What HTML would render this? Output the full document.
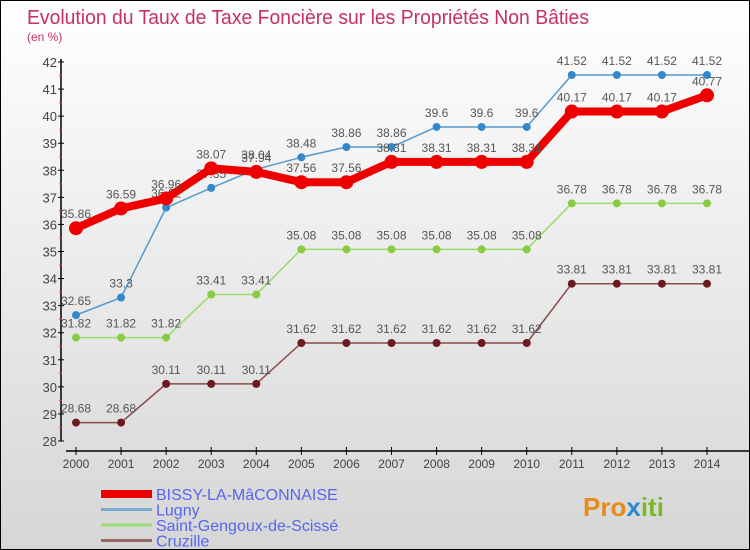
<!DOCTYPE html>
<html><head><meta charset="utf-8"><style>
body{margin:0}
#wrap{width:748px;height:548px;border:1px solid #000;background:linear-gradient(#ffffff,#d6d6d6);position:relative;font-family:"Liberation Sans",sans-serif;overflow:hidden}
svg text{font-family:"Liberation Sans",sans-serif}
</style></head><body>
<div id="wrap">
<svg id="svg" width="748" height="548" xmlns="http://www.w3.org/2000/svg">
<text x="26" y="23" font-size="20" fill="#c8305f" textLength="562" lengthAdjust="spacingAndGlyphs">Evolution du Taux de Taxe Foncière sur les Propriétés Non Bâties</text>
<text x="26" y="40" font-size="12" fill="#c8305f">(en %)</text>
<g id="axes"></g><g id="series"></g><g id="legend"></g>
<text x="582" y="515" font-size="26" font-weight="bold" fill="#e88a1a">Pro<tspan fill="#2a8ad0">x</tspan><tspan fill="#7ab82a">iti</tspan></text>
</svg></div>
<script>
const years=[2000,2001,2002,2003,2004,2005,2006,2007,2008,2009,2010,2011,2012,2013,2014];
const yTicks=[28,29,30,31,32,33,34,35,36,37,38,39,40,41,42];
const bissy=[35.86,36.59,36.96,38.07,37.94,37.56,37.56,38.31,38.31,38.31,38.31,40.17,40.17,40.17,40.77];
const lugny=[32.65,33.3,36.62,37.35,38.04,38.48,38.86,38.86,39.6,39.6,39.6,41.52,41.52,41.52,41.52];
const saint=[31.82,31.82,31.82,33.41,33.41,35.08,35.08,35.08,35.08,35.08,35.08,36.78,36.78,36.78,36.78];
const cruz=[28.68,28.68,30.11,30.11,30.11,31.62,31.62,31.62,31.62,31.62,31.62,33.81,33.81,33.81,33.81];
const NS="http://www.w3.org/2000/svg";
const X=i=>75+i*(706-75)/(years.length-1);
const Y=v=>440-(v-28)*(440-61)/14;
function mk(tag,attrs,parent,txt){const e=document.createElementNS(NS,tag);for(const k in attrs)e.setAttribute(k,attrs[k]);if(txt!==undefined)e.textContent=txt;parent.appendChild(e);return e;}
const ax=document.getElementById('axes');
let yl=mk('line',{x1:60,y1:58,x2:60,y2:440,stroke:'#000','stroke-width':1.5},ax);


yTicks.forEach(t=>{
 mk('line',{x1:57,y1:Y(t),x2:63,y2:Y(t),stroke:'#000'},ax);
 if(t<42)mk('line',{x1:58,y1:Y(t+0.5),x2:61,y2:Y(t+0.5),stroke:'#f33'},ax);
 const tx=mk('text',{x:56,y:Y(t)+5,'text-anchor':'end','font-size':13,fill:'#444'},ax,t);
 
 
});
let xl=mk('line',{x1:65,y1:450,x2:748,y2:450,stroke:'#000','stroke-width':1.5},ax);


years.forEach((y,i)=>{
 mk('line',{x1:X(i),y1:446,x2:X(i),y2:454,stroke:'#000'},ax);
 const tx=mk('text',{x:X(i),y:467,'text-anchor':'middle','font-size':12,fill:'#444'},ax,y);
 
 
});
const sg=document.getElementById('series');
function series(vals,color,w,r,dot,name){
 const g=mk('g',{},sg);
 
 
 mk('polyline',{points:vals.map((v,i)=>X(i)+','+Y(v)).join(' '),fill:'none',stroke:color,'stroke-width':w,'stroke-linejoin':'round'},g);
 vals.forEach((v,i)=>{
  const c=mk('circle',{cx:X(i),cy:Y(v),r:r,fill:dot},g);
  
  
  const t=mk('text',{x:X(i),y:Y(v)-10,'text-anchor':'middle','font-size':12,fill:'#555'},g,v);
  
  
 });
}
series(cruz,'#8b4a4a',1.5,4,'#6b1a20','series-cruzille');
series(saint,'#99dd66',1.5,4,'#88cc44','series-saint-gengoux');
series(lugny,'#5599cc',1.5,4,'#3388cc','series-lugny');
series(bissy,'#ee0000',8,7,'#ee0000','series-bissy');
const lg=document.getElementById('legend');
[['BISSY-LA-MâCONNAISE','#ee0000',8],['Lugny','#7aaacc',3],['Saint-Gengoux-de-Scissé','#99dd77',3],['Cruzille','#996666',3]].forEach((d,i)=>{
 const g=mk('g',{},lg);
 
 
 const yy=493+i*15.5;
 mk('line',{x1:100,y1:yy,x2:151,y2:yy,stroke:d[1],'stroke-width':d[2]},g);
 mk('text',{x:155,y:yy+6,'font-size':16,fill:'#5566ee'},g,d[0]);
});
</script>
</body></html>
